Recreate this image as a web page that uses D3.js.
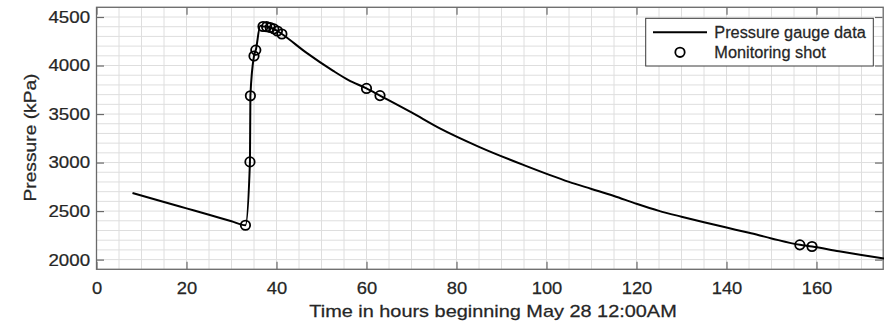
<!DOCTYPE html>
<html>
<head>
<meta charset="utf-8">
<script src="https://cdn.jsdelivr.net/npm/d3@7"></script>
<style>
  html, body { margin: 0; padding: 0; background: #fff; }
  svg { display: block; font-family: "Liberation Sans", Arial, Helvetica, sans-serif; }
  text { stroke: #262626; stroke-width: 0.25px; }
</style>
</head>
<body>
<svg id="chart" width="884" height="326"></svg>
<script>
// Continuous gauge record (hours since May 28 12:00AM, kPa)
const gaugeHours = [8, 15, 20, 25, 30, 33.1, 34.1, 34.2, 35.0, 35.4, 36.4, 37.0, 37.8, 38.6, 39.4, 40.2, 41.2,
  46.7, 52.6, 56, 60, 63, 70, 76.3, 85, 95, 105, 110, 115, 120, 125, 130, 135, 140, 145, 150, 156.3, 159, 165, 170, 175];
const gaugeKpa = [2687, 2594, 2528, 2462, 2395, 2354, 3007, 3688, 4098, 4159, 4410, 4402, 4400, 4392, 4378, 4356, 4325,
  4130, 3945, 3850, 3764, 3690, 3516, 3352, 3162, 2973, 2801, 2728, 2655, 2575, 2502, 2442, 2385, 2330, 2276, 2218, 2152, 2135, 2085, 2048, 2011];

// Discrete monitoring shots
const shotHours = [33.1, 34.1, 34.2, 35.0, 35.4, 37.0, 37.8, 38.6, 39.4, 40.2, 41.2, 60, 63, 156.3, 159];
const shotKpa = [2354, 3007, 3688, 4098, 4159, 4402, 4400, 4392, 4378, 4356, 4325, 3764, 3690, 2152, 2135];

// Axis ticks
const xTicks = [0, 20, 40, 60, 80, 100, 120, 140, 160];
const yTicks = [2000, 2500, 3000, 3500, 4000, 4500];
const xMinor = d3.range(0, 176, 5);
const yMinor = d3.range(1900, 4601, 100);

const legendLabels = ["Pressure gauge data", "Monitoring shot"];

const svg = d3.select("#chart");
const mLeft = 96.5, mRight = 884, mTop = 7.3, mBottom = 269.3;

const x = d3.scaleLinear().domain([0, 175]).range([mLeft, mRight]);
const y = d3.scaleLinear().domain([1900, 4600]).range([mBottom, mTop]);

const axisColor = "#6a6a6a";
const textColor = "#262626";

// grid
const grid = svg.append("g");
grid.selectAll(".gx").data(xMinor).join("line")
  .attr("x1", d => x(d)).attr("x2", d => x(d))
  .attr("y1", mTop).attr("y2", mBottom)
  .attr("stroke", "#dedede").attr("stroke-width", 1);
grid.selectAll(".gy").data(yMinor).join("line")
  .attr("x1", mLeft).attr("x2", mRight)
  .attr("y1", d => y(d)).attr("y2", d => y(d))
  .attr("stroke", "#dedede").attr("stroke-width", 1);

// box
svg.append("rect")
  .attr("x", mLeft).attr("y", mTop)
  .attr("width", mRight - mLeft - 0.8).attr("height", mBottom - mTop)
  .attr("fill", "none").attr("stroke", axisColor).attr("stroke-width", 1.3);

function styleAxis(g) {
  g.select(".domain").remove();
  g.selectAll(".tick line").attr("stroke", axisColor).attr("stroke-width", 1.2);
  g.selectAll(".tick text")
    .attr("fill", textColor)
    .style("font-size", "17px");
}

// bottom axis
const gx = svg.append("g").attr("transform", `translate(0,${mBottom})`)
  .call(d3.axisBottom(x).tickValues(xTicks).tickFormat(d3.format("d"))
    .tickSizeInner(-7.5).tickSizeOuter(0).tickPadding(13));
styleAxis(gx);
gx.selectAll(".tick text").attr("transform", "scale(1.08,1)");

// top ticks
svg.append("g").attr("transform", `translate(0,${mTop})`)
  .call(d3.axisTop(x).tickValues(xTicks).tickFormat("")
    .tickSizeInner(-7.5).tickSizeOuter(0))
  .call(styleAxis);

// left axis
const gy = svg.append("g").attr("transform", `translate(${mLeft},0)`)
  .call(d3.axisLeft(y).tickValues(yTicks).tickFormat(d3.format("d"))
    .tickSizeInner(-7.5).tickSizeOuter(0).tickPadding(5.9));
styleAxis(gy);
gy.selectAll(".tick text").attr("transform", "scale(1.1,1)");

// right ticks
svg.append("g").attr("transform", `translate(${mRight - 1.5},0)`)
  .call(d3.axisRight(y).tickValues(yTicks).tickFormat("")
    .tickSizeInner(-7.5).tickSizeOuter(0))
  .call(styleAxis);

// axis titles
svg.append("text")
  .attr("transform", `translate(493,316.7) scale(1.17,1)`)
  .attr("text-anchor", "middle")
  .attr("fill", textColor)
  .style("font-size", "17px")
  .text("Time in hours beginning May 28 12:00AM");

svg.append("text")
  .attr("transform", `translate(36,137.5) rotate(-90) scale(1.13,1)`)
  .attr("text-anchor", "middle")
  .attr("fill", textColor)
  .style("font-size", "17px")
  .text("Pressure (kPa)");

// data
const plot = svg.append("g");
const line = d3.line().curve(d3.curveMonotoneX).x(d => x(d[0])).y(d => y(d[1]));
plot.append("path")
  .datum(d3.zip(gaugeHours, gaugeKpa))
  .attr("d", line)
  .attr("fill", "none").attr("stroke", "#000").attr("stroke-width", 2)
  .attr("stroke-linejoin", "round");

plot.selectAll("circle.shot").data(d3.zip(shotHours, shotKpa)).join("circle")
  .attr("class", "shot")
  .attr("cx", d => x(d[0])).attr("cy", d => y(d[1]))
  .attr("r", 4.7)
  .attr("fill", "none").attr("stroke", "#000").attr("stroke-width", 1.8);

// legend
const lg = svg.append("g");
lg.append("rect")
  .attr("x", 645.7).attr("y", 18.3).attr("width", 227.6).attr("height", 47.7)
  .attr("fill", "#fff").attr("stroke", "#3a3a3a").attr("stroke-width", 1);
lg.append("line")
  .attr("x1", 653).attr("x2", 707).attr("y1", 32.3).attr("y2", 32.3)
  .attr("stroke", "#000").attr("stroke-width", 2);
lg.append("circle")
  .attr("cx", 680).attr("cy", 52.3).attr("r", 4.7)
  .attr("fill", "none").attr("stroke", "#000").attr("stroke-width", 1.8);
lg.selectAll("text.lab").data(legendLabels).join("text")
  .attr("class", "lab")
  .attr("transform", (d, i) => `translate(714.3,${i ? 57.8 : 37.5}) scale(1.02,1)`)
  .attr("fill", textColor)
  .style("font-size", "16px")
  .text(d => d);
</script>
</body>
</html>
